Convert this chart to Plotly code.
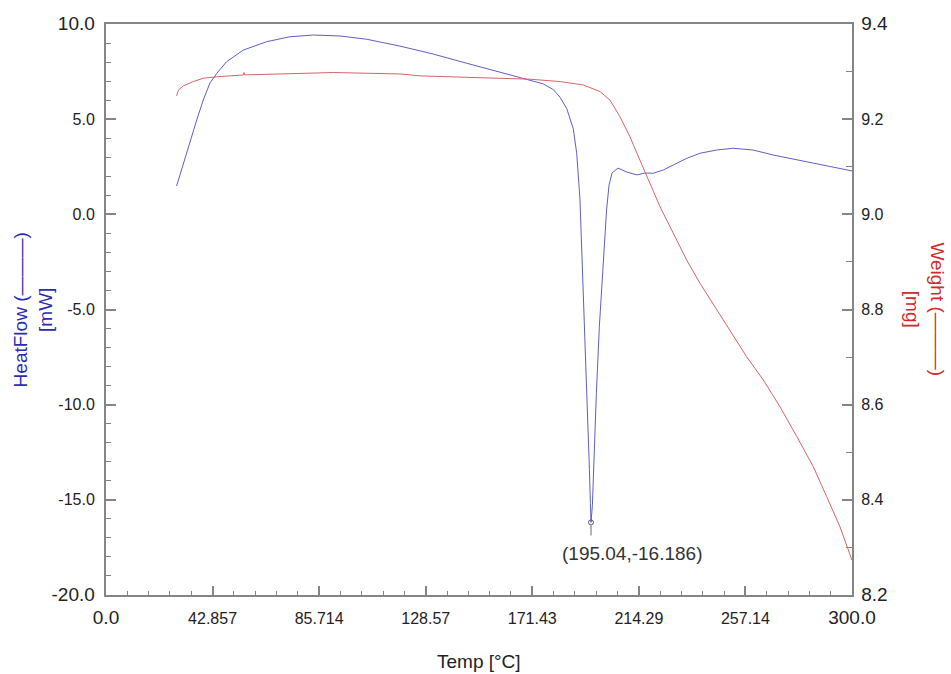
import plotly.graph_objects as go

# ---- data ----
hf_temp = [28.4, 31.1, 33.8, 36.5, 39.1, 41.8, 44.5, 48.5, 55.2, 64.6, 74.0, 83.4, 94.1, 104.8,
           118.2, 131.6, 145.0, 158.4, 169.2, 175.9, 179.9, 182.6, 185.3, 187.9, 189.3, 190.6,
           191.4, 192.4, 193.4, 194.4, 194.8, 195.04, 195.6, 196.2, 197.2, 198.4, 199.9, 201.3,
           202.3, 203.5, 205.9, 209.5, 213.5, 216.7, 220.1, 224.1, 228.1, 233.5, 238.9, 245.6,
           252.1, 260.2, 268.2, 281.8, 300.0]
heatflow = [1.49, 2.68, 3.90, 4.96, 6.0, 6.9, 7.4, 8.02, 8.63, 9.07, 9.33, 9.42, 9.37, 9.20,
            8.84, 8.42, 7.94, 7.49, 7.09, 6.85, 6.55, 6.15, 5.55, 4.5, 3.2, 0.8,
            -2.0, -6.08, -9.76, -13.4, -15.2, -16.186, -15.3, -12.9, -9.4, -5.9, -2.4, 0.23,
            1.54, 2.17, 2.43, 2.22, 2.07, 2.17, 2.16, 2.33, 2.59, 2.94, 3.21, 3.38,
            3.47, 3.38, 3.12, 2.77, 2.28]

w_temp = [28.4, 29.1, 31.1, 35.1, 39.1, 44.5, 55.2, 55.5, 55.8, 71.3, 91.4, 118.2, 126.3, 145.0,
          170.5, 182.6, 191.9, 198.7, 202.7, 206.7, 210.7, 214.7, 218.8, 222.8, 229.5, 233.5,
          238.9, 245.6, 252.3, 257.6, 264.3, 271.0, 277.8, 284.4, 289.8, 295.2, 300.0]
weight = [9.249, 9.261, 9.270, 9.279, 9.286, 9.289, 9.293, 9.298, 9.293, 9.295, 9.298, 9.295,
          9.291, 9.288, 9.284, 9.279, 9.272, 9.258, 9.240, 9.205, 9.163, 9.114, 9.065, 9.016,
          8.946, 8.904, 8.855, 8.799, 8.743, 8.701, 8.652, 8.596, 8.533, 8.470, 8.407, 8.343, 8.273]

peak_temp = 195.04
peak_hf = -16.186
peak_label = "(195.04,-16.186)"

x_tickvals = [0, 300/7, 600/7, 900/7, 1200/7, 1500/7, 1800/7, 300]
x_ticklabels = ["0.0", "42.857", "85.714", "128.57", "171.43", "214.29", "257.14", "300.0"]
y1_tickvals = [-20, -15, -10, -5, 0, 5, 10]
y1_ticklabels = ["-20.0", "-15.0", "-10.0", "-5.0", "0.0", "5.0", "10.0"]
y2_tickvals = [8.2, 8.4, 8.6, 8.8, 9.0, 9.2, 9.4]
y2_ticklabels = ["8.2", "8.4", "8.6", "8.8", "9.0", "9.2", "9.4"]

BIG = 19
TICK = 16
FONT = "Liberation Sans, Arial, sans-serif"
AXC = "#858585"
TXT = "#222222"


def big_ends(labels):
    out = list(labels)
    out[0] = f"<span style='font-size:{BIG}px'>{out[0]}</span>"
    out[-1] = f"<span style='font-size:{BIG}px'>{out[-1]}</span>"
    return out


fig = go.Figure()
fig.add_trace(go.Scatter(x=hf_temp, y=heatflow, mode="lines",
                         line=dict(color="#5f5fc4", width=1), yaxis="y", showlegend=False))
fig.add_trace(go.Scatter(x=w_temp, y=weight, mode="lines",
                         line=dict(color="#d96464", width=1), yaxis="y2", showlegend=False))
fig.add_trace(go.Scatter(x=[peak_temp], y=[peak_hf], mode="markers",
                         marker=dict(symbol="circle-open", size=5, color="#555577", line=dict(width=1)),
                         yaxis="y", showlegend=False))

fig.add_shape(type="line", xref="x", yref="y", x0=peak_temp, x1=peak_temp,
              ysizemode="pixel", yanchor=peak_hf, y0=-3, y1=-13,
              line=dict(color="#666666", width=1))

fig.add_annotation(x=peak_temp, y=peak_hf, xref="x", yref="y", text=peak_label,
                   showarrow=False, xshift=41, yshift=-31,
                   font=dict(family=FONT, size=19, color="#333333"))

fig.add_annotation(xref="paper", yref="paper", x=0.5, y=-0.1173, text="Temp [°C]",
                   showarrow=False, xanchor="center", yanchor="middle",
                   font=dict(family=FONT, size=19, color=TXT))
fig.add_annotation(xref="paper", yref="paper", x=-0.098, y=0.5,
                   text="HeatFlow (———)<br>[mW]", textangle=-90, showarrow=False,
                   xanchor="center", yanchor="middle", align="center",
                   font=dict(family=FONT, size=19, color="#2b2bb5"))
fig.add_annotation(xref="paper", yref="paper", x=1.098, y=0.5,
                   text="Weight (———)<br>[mg]", textangle=90, showarrow=False,
                   xanchor="center", yanchor="middle", align="center",
                   font=dict(family=FONT, size=19, color="#d02a2a"))

fig.update_layout(
    width=951, height=674,
    margin=dict(l=106, r=99, t=24, b=79),
    paper_bgcolor="white", plot_bgcolor="white",
    font=dict(family=FONT, size=TICK, color=TXT),
    xaxis=dict(range=[0, 300], tickmode="array", tickvals=x_tickvals,
               ticktext=big_ends(x_ticklabels), ticks="inside", ticklen=9, tickwidth=1.5,
               tickcolor=AXC, showline=True, linecolor=AXC, linewidth=2, mirror=True,
               showgrid=False, zeroline=False, ticklabelstandoff=8,
               minor=dict(ticks="inside", ticklen=4, tickwidth=1.2, tickcolor=AXC,
                          tick0=0, dtick=300/35, showgrid=False),
               tickfont=dict(family=FONT, size=TICK, color=TXT)),
    yaxis=dict(range=[-20, 10], tickmode="array", tickvals=y1_tickvals,
               ticktext=big_ends(y1_ticklabels), ticks="inside", ticklen=10, tickwidth=1.5,
               tickcolor=AXC, showline=True, linecolor=AXC, linewidth=2,
               showgrid=False, zeroline=False, ticklabelstandoff=6,
               minor=dict(ticks="inside", ticklen=5, tickwidth=1.2, tickcolor=AXC,
                          tick0=0, dtick=1, showgrid=False),
               tickfont=dict(family=FONT, size=TICK, color=TXT)),
    yaxis2=dict(range=[8.2, 9.4], overlaying="y", side="right", anchor="x",
                tickmode="array", tickvals=y2_tickvals,
                ticktext=big_ends(y2_ticklabels), ticks="inside", ticklen=10, tickwidth=1.5,
                tickcolor=AXC, showline=True, linecolor=AXC, linewidth=2,
                showgrid=False, zeroline=False, ticklabelstandoff=4,
                minor=dict(ticks="inside", ticklen=6, tickwidth=1.2, tickcolor=AXC,
                           tick0=8.2, dtick=0.1, showgrid=False),
                tickfont=dict(family=FONT, size=TICK, color=TXT)),
)

fig.write_html("out.html")
